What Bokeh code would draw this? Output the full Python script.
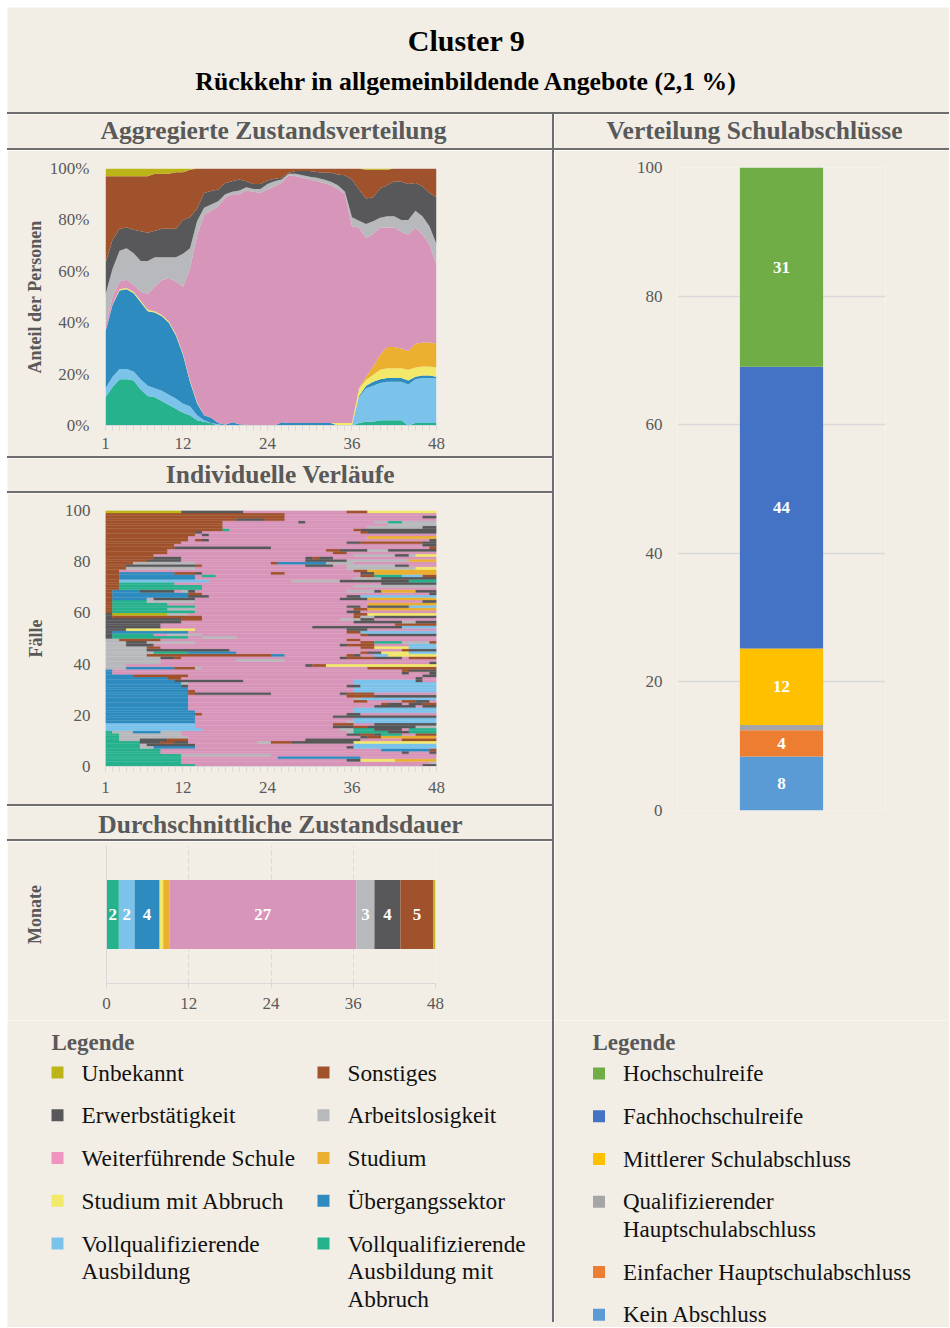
from bokeh.plotting import figure
from bokeh.models import ColumnDataSource, Range1d, FixedTicker, Spacer
from bokeh.layouts import column, row
from bokeh.embed import file_html
from bokeh.resources import INLINE
from bokeh.core.properties import value

BG = "#F2EEE6"
LINE = "#6E6E6E"
GRID = "#D9D9D9"
TXT = "#595959"
FONT = "Liberation Serif"

# ---------------- data ----------------
months = list(range(1, 49))

state_keys = ["vab", "va", "ue", "sab", "stu", "ws", "al", "erw", "son", "unb"]
state_colors = ["#27B28E", "#7CC3EC", "#2E8BC0", "#F2E86A", "#EBB030",
                "#D895BA", "#B8B9BC", "#58585A", "#A0522D", "#BDB419"]

vab = [11, 15, 18, 18, 17.5, 14, 11.5, 11, 9.5, 8, 6.5, 5, 4, 2, 1.5, 1, 0,
       0, 0, 0, 0, 0, 0, 0, 0, 0, 0, 0, 0, 0, 0, 0, 0, 0, 0, 0,
       1, 1.5, 1.5, 2, 2, 2, 2, 0, 1, 1, 1, 1]
va = [3.5, 4, 4, 4, 3.5, 4, 4, 3.5, 4, 4, 4, 3.5, 3.5, 2, 0.5, 0, 0.5,
      0, 0, 0, 0, 0, 0, 0, 0, 0, 0, 0, 0, 0, 0, 0, 0, 0, 0, 0,
      10, 13, 14, 14.5, 15, 15, 15, 16, 17, 17.5, 17.5, 17.5]
ue = [22, 28, 30.5, 31, 30.5, 30, 29, 29.5, 29, 28, 24.5, 19, 9.5, 4.7, 2, 2, 0.5,
      0.3, 1.3, 0.5, 0.3, 0, 0, 0, 0, 1.3, 1, 1, 1, 1, 1, 1, 1, 0, 0, 0,
      0.5, 1, 1.5, 1.5, 1.5, 1.5, 1.5, 1.5, 1, 1, 1, 0.5]
sab = [0, 0.3, 0.5, 0.5, 0.5, 0.5, 0.5, 0.5, 0.5, 0.5, 0.5, 0.5, 0.5, 0.3,
       0, 0, 0, 0, 0, 0, 0, 0, 0, 0, 0, 0, 0, 0, 0, 0, 0, 0, 0,
       1, 1, 1,
       2.8, 2.3, 2.7, 3.7, 3.8, 3.8, 3.8, 4.2, 3.6, 3.5, 3.5, 3.6]
stu = [0, 0, 0, 0, 0, 0, 0, 0, 0, 0, 0, 0, 0, 0, 0, 0, 0, 0,
       0, 0, 0, 0, 0, 0, 0, 0, 0, 0, 0, 0, 0, 0, 0, 0, 0, 0,
       0.2, 1.2, 3.3, 5.8, 8.2, 8.2, 7.7, 7.3, 9.2, 9.3, 9.3, 9.2]
ws = [2.5, 2.7, 3, 3.2, 2.8, 3.5, 6.3, 9.5, 13.5, 16.9, 20.5, 26, 43.5,
      65, 78, 80.6, 84.3, 88.3, 88.7, 89.5, 91.1, 91, 90.5, 91.8, 93, 93.1,
      96.4, 96, 95.4, 94.7, 94, 93.4, 92.5, 91, 89, 76.5,
      62.5, 54, 51.5, 49.5, 46.5, 46.5, 45.3, 45.3, 45.2, 42, 38.1, 30.8]
al = [12, 11, 12, 12.3, 12.2, 12, 12.7, 11.5, 9, 8.1, 9.5, 12.8, 8,
      5.5, 2.7, 2.4, 2, 1.4, 1, 1.4, 1.3, 1, 1.5, 2.2, 2, 1.3, 0.6, 1, 1,
      1.1, 1.4, 1.3, 1.3, 1.5, 1,
      3.5, 2.7, 5.4, 5, 3.8, 4.4, 4.4, 4.7, 5.7, 6.6, 7.1, 7.1, 8]
erw = [12.2, 11.3, 8.6, 8, 9.2, 11.6, 11, 10.3, 11.1, 11.1, 11.1, 13.2, 12,
       4.8, 5.8, 5.2, 4.5, 4.4, 4, 4.3, 2.3, 2, 2, 1.3, 1, 0.7, 0.3, 1, 1.6,
       2.2, 2.2, 2.6, 3.5, 4.2, 6.4,
       14.7, 12.1, 9.9, 9.3, 11.4, 12.1, 13.6, 14.8, 14, 10.8, 11.7, 13, 18.2]
son = [33.8, 24.7, 20.4, 20, 20.8, 21.4, 22, 22.2, 21.4, 21.4, 21.9, 18.5, 18.5,
       15.7, 9.5, 8.8, 8.2, 5.6, 5, 4.3, 5, 6, 6, 4.7, 4, 3.6, 1.7, 1, 1, 1,
       1.4, 1.7, 1.7, 2.3, 2.6, 4.3,
       8.2, 11.2, 10.7, 7.3, 6, 5, 5.2, 6, 5.6, 6.9, 9.5, 11.2]
unb = [3, 3, 3, 3, 3, 3, 3, 2, 2, 2, 1.5, 1.5, 0.5,
       0, 0, 0, 0, 0, 0, 0, 0, 0, 0, 0, 0, 0, 0, 0, 0, 0, 0, 0, 0, 0, 0, 0, 0,
       0.5, 0.5, 0.5, 0.5, 0, 0, 0, 0, 0, 0, 0]

area_ticks = [0, 20, 40, 60, 80, 100]
month_ticks = [1, 12, 24, 36, 48]

# individual sequences, bottom row first; token = state code + start month
code_index = {"B": 0, "V": 1, "G": 2, "X": 3, "T": 4, "W": 5, "A": 6, "E": 7, "S": 8, "U": 9}
seq_rows = [
    "B1 W14 E47", "B1 W12 A48", "B1 W12 E36 X38 T43", "B1 W12 G26 W38",
    "B1 A12 W25", "B1 W9 E44 W45 E48", "B1 W9 G41 S48", "B1 A6 G8 W14 E36 V37",
    "B1 A6 E7 W14 V37", "B1 E6 S9 E11 W13 A23 S25 E28 X37",
    "B1 A3 E6 S10 W13 E30 W38 S44", "B1 A3 W13 E38 S39 T41",
    "B1 A3 W12 E36 S38 E40 B41 W44 S46", "B1 A2 G5 A9 W12 A36 B37 E42 B45",
    "V1 W15 A35 B37 E40 W44 B45", "V1 W14 E34 S37 E39 A46", "V1 W14 S34 W37 E40",
    "G1 W14 A36 V37", "G1 W14 V37", "G1 W14 E34", "G1 S14 W15 E36 W38",
    "G1 W14 V37", "G1 W13 V37", "G1 W13 E40 W46 E47", "G1 W13 S41 E42 W44 E45 S47",
    "G1 W13 S37 W39 S44 E46 W48", "G1 W13 A37 V38", "G1 W13 S36 E40",
    "G1 S13 E14 W25 E35 S36 W40", "G1 S13 W14 V37", "G1 W13 V37",
    "G1 E12 W13 E36 V38", "G1 A12 W13 V37", "G1 E11 W21 V37 E46 W47",
    "G1 S10 W12 E46 W47", "G1 S5 W13 E47", "G1 W2 E44 W45 E48", "G1 W2 S44 E45",
    "A1 G4 S11 A14 W15 S39", "A1 W4 E30 S31 X33", "A1 W9 E48", "A1 W9 A20 W27",
    "A1 E9 S11 W12 E35 S36 E40 W44 S45", "A1 S7 G25 W27 S36 E37 W38 V40 X42",
    "A1 B8 G13 W20 S38 E39 X41 V45", "A1 E7 W19 S44 E45", "A1 S7 W9 S38 X40 V45",
    "A1 E4 W8 E35 S36 W40 V45", "A1 E4 A7 W14 S38 B40 A44 S48", "A1 S3 W9 S36 W38",
    "E1 B2 W13 A15 W20", "E1 B2 W8 A10 W15 S38 E39", "E1 G2 W13 S36 V38",
    "E1 X4 W14 E36 W39", "E1 W9 E31 V44", "E1 W9 S43", "E1 W12 E37 A44 E46",
    "E1 S12 W15 A35 E38 W40", "E1 S2 W15 S37 A38 E40", "E1 U2 A10 W13 S37 X39",
    "S1 B2 W14 E36 W38", "S1 B2 A10 W14 S37 T39", "S1 B2 W14 E36 W38 E39 V45",
    "S1 B2 W10 T39", "S1 B2 A7 W14 E47", "S1 G2 A7 E8 W14 E35 T39",
    "S1 G2 E13 W16 E36 V38", "S1 G2 S13 W15 E48",
    "S1 G2 E6 W11 A12 E13 W14 A36 E40 T41 E46", "S1 B3 W15", "S1 B3 W15 A37",
    "S1 B3 W11 E41", "S1 V3 W16 A28 E35 B45", "S1 G3 W14 A37 E41",
    "S1 G3 W14 B15 W17 S38 B40 V44 S47", "S1 G3 S11 E14 W15 S25 W27 E38 T40",
    "S1 W3 S37 T39", "S1 A4 W14 A36 X46", "S1 E4 S14 W15 E30 W34 A36 E43 W45",
    "S1 A5 W14 S25 G26 A33 W37", "S1 E7 W12 E30 A36 T45", "S1 E8 W12 E30 S31 E32 W34",
    "S1 W8 A37 E43 A45 X46", "S1 W10 S34 W36", "S1 W10 S33 E35 A39 E42",
    "S1 E11 W25 S48", "S1 W11 E47", "S1 W12 E36 S38 E47", "S1 W13 S14 E15 W16 E48",
    "S1 W13 T39", "S1 W14 E15 W16", "S1 E14 W15 S38 E39", "S1 B18 W19 S37 E38",
    "S1 W18 A39 E47", "S1 W18 A42", "S1 W18 E29 W30 A40 B42 A44", "S1 E20 S24 W27",
    "S1 W27 E47", "S1 W27", "U1 E12 W21 S36 X39",
]
case_ticks = [0, 20, 40, 60, 80, 100]

# average duration (months), same state order as state_keys
dur_vals = [1.8, 2.3, 3.65, 0.53, 0.88, 27.3, 2.63, 3.8, 4.8, 0.31]
dur_labels = ["2", "2", "4", "", "", "27", "3", "4", "5", ""]
dur_ticks = [0, 12, 24, 36, 48]

# school degrees, bottom to top
school_cats = ["Kein Abschluss", "Einfacher Hauptschulabschluss",
               "Qualifizierender Hauptschulabschluss", "Mittlerer Schulabschluss",
               "Fachhochschulreife", "Hochschulreife"]
school_vals = [8.4, 4.1, 0.8, 11.9, 43.8, 31.0]
school_labels = ["8", "4", "", "12", "44", "31"]
school_colors = ["#5B9BD5", "#ED7D31", "#A5A5A5", "#FFC000", "#4472C4", "#70AD47"]
school_ticks = [0, 20, 40, 60, 80, 100]

# legends
legend1_labels = ["Unbekannt", "Sonstiges", "Erwerbstätigkeit", "Arbeitslosigkeit",
                  "Weiterführende Schule", "Studium", "Studium mit Abbruch",
                  "Übergangssektor", "Vollqualifizierende\nAusbildung",
                  "Vollqualifizierende\nAusbildung mit\nAbbruch"]
legend1_colors = ["#BDB419", "#A0522D", "#58585A", "#B8B9BC", "#EF93BF",
                  "#EBB030", "#F2E86A", "#2E8BC0", "#7CC3EC", "#27B28E"]
legend2_labels = ["Hochschulreife", "Fachhochschulreife", "Mittlerer Schulabschluss",
                  "Qualifizierender\nHauptschulabschluss",
                  "Einfacher Hauptschulabschluss", "Kein Abschluss"]
legend2_colors = ["#70AD47", "#4472C4", "#FFC000", "#A5A5A5", "#ED7D31", "#5B9BD5"]

title_text = "Cluster 9"
subtitle_text = "Rückkehr in allgemeinbildende Angebote (2,1 %)"


# ---------------- helpers ----------------
def blank(w, h, **kw):
    p = figure(width=w, height=h, x_range=Range1d(0, w), y_range=Range1d(h, 0),
               min_border=0, toolbar_location=None, tools="", output_backend="svg",
               x_axis_location=None, y_axis_location=None, frame_align=False,
               background_fill_color=BG, border_fill_color=BG, outline_line_color=None, **kw)
    p.grid.visible = False
    return p


def put_text(p, x, y, t, size, color="#000000", bold=False, align="center"):
    p.text(x=[x], y=[y], text=[t], text_font=value(FONT), text_font_size=size,
           text_color=color, text_font_style="bold" if bold else "normal",
           text_align=align, text_baseline="middle")


def header(w, h, t, cx, cy):
    p = blank(w, h)
    put_text(p, cx, cy, t, "25.5px", TXT, True)
    return p


def hline(w):
    return Spacer(width=w, height=2, styles={"background-color": LINE})


def chart(w, h, xr, yr, l, r, t, b, **kw):
    p = figure(width=w, height=h, x_range=xr, y_range=yr, toolbar_location=None, tools="",
               output_backend="svg", background_fill_color=BG, border_fill_color=BG,
               outline_line_color=None, min_border_left=l, min_border_right=r,
               min_border_top=t, min_border_bottom=b, frame_align=False, **kw)
    p.grid.visible = False
    return p


def style_axis(ax):
    ax.major_label_text_font = FONT
    ax.major_label_text_font_size = "17px"
    ax.major_label_text_color = TXT
    ax.axis_label_text_font = FONT
    ax.axis_label_text_font_size = "18px"
    ax.axis_label_text_font_style = "bold"
    ax.axis_label_text_color = TXT


def month_xaxis(p, standoff):
    ax = p.xaxis[0]
    ax.ticker = FixedTicker(ticks=month_ticks, minor_ticks=months)
    style_axis(ax)
    ax.axis_line_color = GRID
    ax.major_tick_line_color = GRID
    ax.minor_tick_line_color = GRID
    ax.major_tick_in = 0
    ax.minor_tick_in = 0
    ax.major_tick_out = 5
    ax.minor_tick_out = 5
    ax.major_label_standoff = standoff


def plain_yaxis(ax, ticks, standoff):
    ax.ticker = FixedTicker(ticks=ticks)
    style_axis(ax)
    ax.axis_line_color = None
    ax.major_tick_line_color = None
    ax.minor_tick_line_color = None
    ax.major_tick_out = 0
    ax.major_tick_in = 0
    ax.minor_tick_out = 0
    ax.minor_tick_in = 0
    ax.major_label_standoff = standoff


TW = 942
LW = 545
RW = 395

# ---------------- title ----------------
title_fig = blank(TW, 105)
put_text(title_fig, 459, 33, title_text, "30px", "#000000", True)
put_text(title_fig, 459, 74, subtitle_text, "25.7px", "#000000", True)

# ---------------- aggregated distribution ----------------
pa = chart(LW, 306, Range1d(1, 48), Range1d(0, 100), 98, 116, 18, 31)
src = ColumnDataSource(dict(x=months, vab=vab, va=va, ue=ue, sab=sab, stu=stu, ws=ws,
                            al=al, erw=erw, son=son, unb=unb))
pa.varea_stack(stackers=state_keys, x="x", color=state_colors, source=src)
month_xaxis(pa, 7)
ya = pa.yaxis[0]
plain_yaxis(ya, area_ticks, 16)
ya.major_label_overrides = {t: f"{t}%" for t in area_ticks}
ya.axis_label = "Anteil der Personen"
ya.axis_label_standoff = 2

# ---------------- individual sequences ----------------
pi = chart(LW, 311, Range1d(1, 48), Range1d(0, 100), 98, 116, 17, 38)
ql, qr, qb, qt, qc = [], [], [], [], []
for i, r in enumerate(seq_rows):
    toks = r.split()
    starts = [int(t[1:]) for t in toks]
    ends = starts[1:] + [49]
    for tok, s, e in zip(toks, starts, ends):
        ql.append(1 + (s - 1) * 47 / 48)
        qr.append(1 + (e - 1) * 47 / 48)
        qb.append(i)
        qt.append(i + 1)
        qc.append(state_colors[code_index[tok[0]]])
pi.quad(left=ql, right=qr, bottom=qb, top=qt, fill_color=qc, line_color=qc, line_width=0.3)
month_xaxis(pi, 10)
yi = pi.yaxis[0]
plain_yaxis(yi, case_ticks, 15)
yi.axis_label = "Fälle"
yi.axis_label_standoff = 16

# ---------------- average duration ----------------
pd_ = chart(LW, 179, Range1d(0, 48), Range1d(0, 1), 99, 117, 4, 37)
lefts, rights, acc = [], [], 0.0
for v in dur_vals:
    lefts.append(acc)
    acc += v
    rights.append(acc)
pd_.hbar(y=[0.5] * len(dur_vals), left=lefts, right=rights, height=0.5,
         fill_color=state_colors, line_color=None)
pd_.text(x=[(a + b) / 2 for a, b in zip(lefts, rights)], y=[0.5] * len(dur_vals),
         text=dur_labels, text_font=value(FONT), text_font_size="17px",
         text_font_style="bold", text_color="white", text_align="center",
         text_baseline="middle")
xd = pd_.xaxis[0]
xd.ticker = FixedTicker(ticks=dur_ticks)
style_axis(xd)
xd.axis_line_color = GRID
xd.major_tick_line_color = GRID
xd.minor_tick_line_color = None
xd.major_tick_in = 0
xd.major_tick_out = 5
xd.major_label_standoff = 9
pd_.xgrid.visible = True
pd_.xgrid.grid_line_color = GRID
pd_.xgrid.grid_line_dash = "5 3"
pd_.xgrid.grid_line_width = 1
yd = pd_.yaxis[0]
plain_yaxis(yd, [], 0)
yd.axis_line_color = GRID
yd.axis_label = "Monate"
yd.axis_label_standoff = 62

# ---------------- school degrees ----------------
pb = chart(RW, 870, Range1d(0, 1), Range1d(0, 100), 123, 64, 17, 210, x_axis_location=None)
bots, tops, acc = [], [], 0.0
for v in school_vals:
    bots.append(acc)
    acc += v
    tops.append(acc)
pb.vbar(x=[0.5] * len(school_vals), bottom=bots, top=tops, width=0.4,
        fill_color=school_colors, line_color=None)
pb.text(x=[0.5] * len(school_vals), y=[(a + b) / 2 for a, b in zip(bots, tops)],
        text=school_labels, text_font=value(FONT), text_font_size="17px",
        text_font_style="bold", text_color="white", text_align="center",
        text_baseline="middle")
pb.ygrid.visible = True
pb.ygrid.grid_line_color = GRID
pb.ygrid.grid_line_width = 1.5
yb = pb.yaxis[0]
plain_yaxis(yb, school_ticks, 15)

# ---------------- legends ----------------
STEP = 42.75
LINEH = 27.5
LEGH = 307

leg1 = blank(LW, LEGH)
put_text(leg1, 44, 22, "Legende", "23px", TXT, True, "left")
sx, sy, scol, tx, ty, tt = [], [], [], [], [], []
for i, (lab, col) in enumerate(zip(legend1_labels, legend1_colors)):
    c = i % 2
    rr = i // 2
    y0 = 52 + rr * STEP
    x0 = 50 if c == 0 else 316
    sx.append(x0); sy.append(y0); scol.append(col)
    for k, line in enumerate(lab.split("\n")):
        tx.append(x0 + 24); ty.append(y0 + k * LINEH); tt.append(line)
leg1.scatter(x=sx, y=sy, marker="square", size=12, fill_color=scol, line_color=None)
leg1.text(x=tx, y=ty, text=tt, text_font=value(FONT), text_font_size="23.3px",
          text_color="#111111", text_align="left", text_baseline="middle")

leg2 = blank(RW, LEGH)
put_text(leg2, 38, 22, "Legende", "23px", TXT, True, "left")
sx, sy, scol, tx, ty, tt = [], [], [], [], [], []
y0 = 53
for lab, col in zip(legend2_labels, legend2_colors):
    lines = lab.split("\n")
    sx.append(44.5); sy.append(y0); scol.append(col)
    for k, line in enumerate(lines):
        tx.append(68.5); ty.append(y0 + k * LINEH); tt.append(line)
    y0 += STEP + (len(lines) - 1) * LINEH
leg2.scatter(x=sx, y=sy, marker="square", size=12, fill_color=scol, line_color=None)
leg2.text(x=tx, y=ty, text=tt, text_font=value(FONT), text_font_size="23px",
          text_color="#111111", text_align="left", text_baseline="middle")

# ---------------- layout ----------------
left_col = column(
    header(LW, 34, "Aggregierte Zustandsverteilung", 266, 16), hline(LW), pa, hline(LW),
    header(LW, 33, "Individuelle Verläufe", 273, 16), hline(LW), pi, hline(LW),
    header(LW, 33, "Durchschnittliche Zustandsdauer", 273, 18), hline(LW), pd_,
    leg1,
)
vcol = column(Spacer(width=2, height=1208, styles={"background-color": LINE}),
              Spacer(width=2, height=5, styles={"background-color": BG}))
right_col = column(header(RW, 34, "Verteilung Schulabschlüsse", 200, 16), hline(RW), pb, leg2)

content = column(title_fig, hline(TW), row(left_col, vcol, right_col))
page = row(Spacer(width=7, height=7), column(Spacer(width=7, height=7), content))

open("out.html", "w").write(file_html(page, INLINE))
